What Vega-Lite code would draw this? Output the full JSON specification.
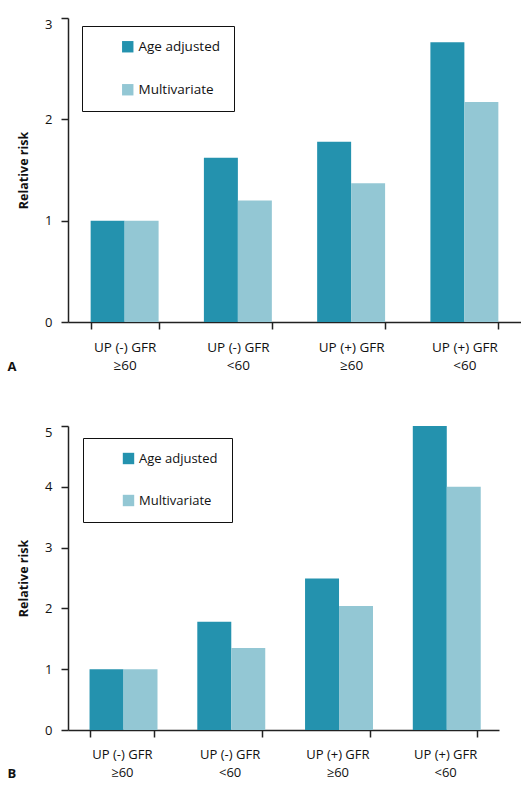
{
  "$schema": "https://vega.github.io/schema/vega-lite/v6.json",
  "padding": {"left": 7, "top": 17, "right": 0, "bottom": 0},
  "datasets": {
    "panelA": [
      {"group": "UP (-) GFR ≥60", "model": "Age adjusted", "rr": 1.0},
      {"group": "UP (-) GFR ≥60", "model": "Multivariate", "rr": 1.0},
      {"group": "UP (-) GFR <60", "model": "Age adjusted", "rr": 1.62},
      {"group": "UP (-) GFR <60", "model": "Multivariate", "rr": 1.2},
      {"group": "UP (+) GFR ≥60", "model": "Age adjusted", "rr": 1.78},
      {"group": "UP (+) GFR ≥60", "model": "Multivariate", "rr": 1.37},
      {"group": "UP (+) GFR <60", "model": "Age adjusted", "rr": 2.76},
      {"group": "UP (+) GFR <60", "model": "Multivariate", "rr": 2.17}
    ],
    "panelB": [
      {"group": "UP (-) GFR ≥60", "model": "Age adjusted", "rr": 1.0},
      {"group": "UP (-) GFR ≥60", "model": "Multivariate", "rr": 1.0},
      {"group": "UP (-) GFR <60", "model": "Age adjusted", "rr": 1.78},
      {"group": "UP (-) GFR <60", "model": "Multivariate", "rr": 1.35},
      {"group": "UP (+) GFR ≥60", "model": "Age adjusted", "rr": 2.49},
      {"group": "UP (+) GFR ≥60", "model": "Multivariate", "rr": 2.04},
      {"group": "UP (+) GFR <60", "model": "Age adjusted", "rr": 5.0},
      {"group": "UP (+) GFR <60", "model": "Multivariate", "rr": 4.0}
    ]
  },
  "spacing": 51,
  "resolve": {
    "scale": {"x": "independent", "y": "independent", "color": "independent"},
    "legend": {"color": "independent"}
  },
  "vconcat": [
    {
      "data": {"name": "panelA"},
      "width": 453,
      "height": 304,
      "title": {"text": "A", "orient": "bottom", "anchor": "start", "frame": "bounds", "offset": -11, "dx": -10, "fontSize": 13, "fontWeight": "bold"},
      "mark": {"type": "bar"},
      "encoding": {
        "x": {
          "field": "group", "type": "nominal", "sort": null, "title": null,
          "scale": {"paddingInner": 0.4, "paddingOuter": 0.2},
          "axis": {"labelExpr": "[slice(datum.label, 0, 10), slice(datum.label, 11)]", "labelFontSize": 13.5, "labelPadding": 11, "labelLineHeight": 18}
        },
        "xOffset": {"field": "model", "sort": ["Age adjusted", "Multivariate"]},
        "y": {
          "field": "rr", "type": "quantitative", "title": "Relative risk",
          "scale": {"domain": [0, 3], "nice": false},
          "axis": {"values": [0, 1, 2, 3], "labelBaseline": {"condition": {"test": "datum.value == 3", "value": "top"}, "value": "middle"}}
        },
        "color": {
          "field": "model", "type": "nominal", "title": null,
          "scale": {"domain": ["Age adjusted", "Multivariate"], "range": ["#2492ae", "#93c7d4"]},
          "legend": {"legendX": 14, "legendY": 8, "labelFontSize": 13.5}
        }
      }
    },
    {
      "data": {"name": "panelB"},
      "width": 431,
      "height": 304,
      "title": {"text": "B", "orient": "bottom", "anchor": "start", "frame": "bounds", "offset": -11, "dx": -10, "fontSize": 13, "fontWeight": "bold"},
      "mark": {"type": "bar"},
      "encoding": {
        "x": {
          "field": "group", "type": "nominal", "sort": null, "title": null,
          "scale": {"paddingInner": 0.4, "paddingOuter": 0.2},
          "axis": {"labelExpr": "[slice(datum.label, 0, 10), slice(datum.label, 11)]", "labelFontSize": 13, "labelPadding": 11, "labelLineHeight": 18}
        },
        "xOffset": {"field": "model", "sort": ["Age adjusted", "Multivariate"]},
        "y": {
          "field": "rr", "type": "quantitative", "title": "Relative risk",
          "scale": {"domain": [0, 5], "nice": false},
          "axis": {"values": [0, 1, 2, 3, 4, 5], "labelBaseline": {"condition": {"test": "datum.value == 5", "value": "top"}, "value": "middle"}}
        },
        "color": {
          "field": "model", "type": "nominal", "title": null,
          "scale": {"domain": ["Age adjusted", "Multivariate"], "range": ["#2492ae", "#93c7d4"]},
          "legend": {"legendX": 15, "legendY": 12, "labelFontSize": 13}
        }
      }
    }
  ],
  "config": {
    "font": "Open Sans",
    "view": {"stroke": null},
    "title": {"color": "#111"},
    "axis": {
      "grid": false,
      "domainColor": "#222",
      "domainWidth": 1.5,
      "tickColor": "#222",
      "tickWidth": 1.5,
      "tickSize": 7,
      "labelColor": "#111",
      "labelFontSize": 13,
      "labelFont": "Open Sans",
      "titleFont": "Open Sans",
      "titleFontSize": 12.5,
      "titleFontWeight": "bold",
      "titleColor": "#111"
    },
    "axisX": {"tickBand": "extent", "labelAngle": 0, "labelBaseline": "top"},
    "axisY": {"labelPadding": 9, "titlePadding": 14},
    "legend": {
      "orient": "none",
      "strokeColor": "#111",
      "fillColor": "white",
      "padding": 14,
      "symbolOffset": 25,
      "rowPadding": 28,
      "symbolType": "square",
      "symbolSize": 130,
      "symbolStrokeWidth": 0,
      "labelOffset": 4,
      "labelColor": "#111",
      "labelFont": "Open Sans"
    }
  }
}
